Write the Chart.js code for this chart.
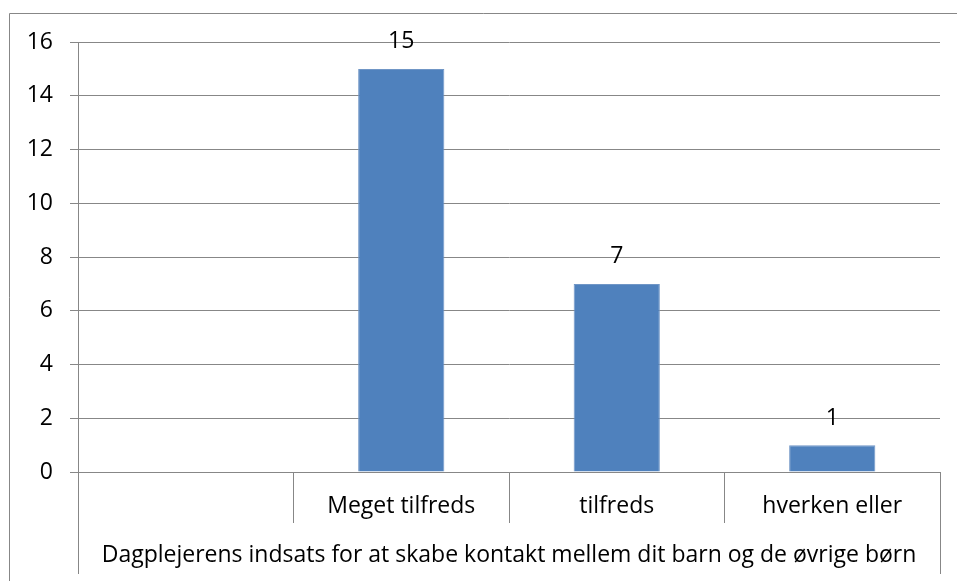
<!DOCTYPE html>
<html>
<head>
<meta charset="utf-8">
<script src="https://cdn.jsdelivr.net/npm/chart.js@4/dist/chart.umd.min.js"></script>
<style>
  html, body { margin: 0; padding: 0; background: #fff; }
  canvas { display: block; }
</style>
</head>
<body>
<canvas id="chart" width="957" height="581"></canvas>
<script>
// data
const categories = ["", "Meget tilfreds", "tilfreds", "hverken eller"];
const counts = [null, 15, 7, 1];
const groupLabel = "Dagplejerens indsats for at skabe kontakt mellem dit barn og de øvrige børn";
const yTicks = [0, 2, 4, 6, 8, 10, 12, 14, 16];

const gridGray = "#878787";
const fontFamily = "'Open Sans', sans-serif";
const fontSize = 23;

// frame, long edge dividers and value labels
const decorations = {
  id: "decorations",
  beforeDraw(chart) {
    const ctx = chart.ctx;
    ctx.save();
    ctx.fillStyle = "#fff";
    ctx.fillRect(0, 0, chart.width, chart.height);
    ctx.strokeStyle = gridGray;
    ctx.lineWidth = 1;
    ctx.beginPath();
    ctx.moveTo(9.5, chart.height);
    ctx.lineTo(9.5, 13.5);
    ctx.lineTo(chart.width, 13.5);
    ctx.stroke();
    ctx.restore();
  },
  afterDraw(chart) {
    const ctx = chart.ctx;
    const area = chart.chartArea;
    ctx.save();
    ctx.strokeStyle = gridGray;
    ctx.lineWidth = 1;
    ctx.beginPath();
    [area.left, area.right].forEach(x => {
      const px = Math.round(x) + 0.5;
      ctx.moveTo(px, area.bottom);
      ctx.lineTo(px, area.bottom + 102);
    });
    ctx.stroke();

    ctx.fillStyle = "#000";
    ctx.font = fontSize + "px " + fontFamily;
    ctx.textAlign = "center";
    ctx.textBaseline = "middle";
    chart.getDatasetMeta(0).data.forEach((bar, i) => {
      if (counts[i] == null) return;
      ctx.fillText(String(counts[i]), bar.x, bar.y - 27);
    });
    ctx.restore();
  }
};

new Chart(document.getElementById("chart"), {
  type: "bar",
  data: {
    labels: categories,
    datasets: [{
      data: counts,
      backgroundColor: "#4F81BD",
      borderColor: "#7096c6",
      borderWidth: 1,
      barPercentage: 0.4,
      categoryPercentage: 1.0
    }]
  },
  options: {
    responsive: false,
    animation: false,
    layout: { padding: { top: 42, right: 17, bottom: 0, left: 0 } },
    plugins: {
      legend: { display: false },
      tooltip: { enabled: false }
    },
    scales: {
      x: {
        offset: true,
        grid: {
          offset: true,
          drawOnChartArea: false,
          drawTicks: true,
          tickLength: 51,
          color: gridGray
        },
        border: { display: true, color: gridGray },
        ticks: {
          color: "#000",
          font: { family: fontFamily, size: fontSize },
          padding: -30,
          maxRotation: 0,
          autoSkip: false
        },
        title: {
          display: true,
          text: groupLabel,
          color: "#000",
          font: { family: fontFamily, size: fontSize },
          padding: { top: 0, bottom: 12 }
        },
        afterFit(scale) { scale.height = 109; }
      },
      y: {
        min: 0,
        max: 16,
        afterBuildTicks(scale) { scale.ticks = yTicks.map(v => ({ value: v })); },
        grid: {
          color: gridGray,
          tickLength: 8
        },
        border: { display: true, color: gridGray },
        ticks: {
          color: "#000",
          font: { family: fontFamily, size: fontSize },
          padding: 17
        },
        afterFit(scale) { scale.width = 78; }
      }
    }
  },
  plugins: [decorations]
});
</script>
</body>
</html>
